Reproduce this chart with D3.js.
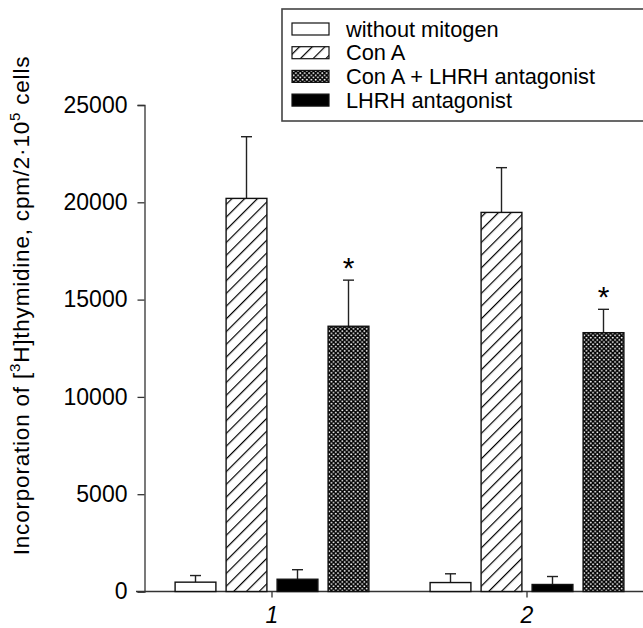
<!DOCTYPE html>
<html>
<head>
<meta charset="utf-8">
<style>
  body { margin: 0; background: #fff; }
  text { font-family: "Liberation Sans", Arial, Helvetica, sans-serif; }
</style>
<script src="https://d3js.org/d3.v7.min.js"></script>
</head>
<body>
<div id="chart"></div>
<script>
// data
var groups = ["1", "2"];
var series = ["without mitogen", "Con A", "LHRH antagonist", "Con A + LHRH antagonist"];
var legendOrder = ["without mitogen", "Con A", "Con A + LHRH antagonist", "LHRH antagonist"];
var means1 = [480, 20200, 630, 13630];
var errs1 = [340, 3170, 490, 2370];
var means2 = [460, 19480, 360, 13300];
var errs2 = [450, 2300, 410, 1200];
var marks = ["", "", "", "*"];
var yTicks = [0, 5000, 10000, 15000, 20000, 25000];

var width = 643, height = 628;
var fills = {
  "without mitogen": "#fff",
  "Con A": "url(#hatch)",
  "Con A + LHRH antagonist": "url(#dots)",
  "LHRH antagonist": "#000"
};

var rows = [];
groups.forEach(function(g, gi) {
  var m = gi === 0 ? means1 : means2, e = gi === 0 ? errs1 : errs2;
  series.forEach(function(s, si) {
    rows.push({group: g, series: s, mean: m[si], err: e[si], mark: marks[si]});
  });
});

var svg = d3.select("#chart").append("svg")
  .attr("width", width).attr("height", height);

var defs = svg.append("defs");
var hatch = defs.append("pattern").attr("id", "hatch")
  .attr("patternUnits", "userSpaceOnUse").attr("width", 9).attr("height", 9)
  .attr("patternTransform", "rotate(45)");
hatch.append("rect").attr("width", 9).attr("height", 9).attr("fill", "#fff");
hatch.append("line").attr("x1", 0).attr("y1", 0).attr("x2", 0).attr("y2", 9)
  .attr("stroke", "#000").attr("stroke-width", 2.4);

var dots = defs.append("pattern").attr("id", "dots")
  .attr("patternUnits", "userSpaceOnUse").attr("width", 4.4).attr("height", 4.4);
dots.append("rect").attr("width", 4.4).attr("height", 4.4).attr("fill", "#000");
dots.append("circle").attr("cx", 1.1).attr("cy", 1.1).attr("r", 0.95).attr("fill", "#fff");
dots.append("circle").attr("cx", 3.3).attr("cy", 3.3).attr("r", 0.95).attr("fill", "#fff");

var y = d3.scaleLinear().domain([0, 25000]).range([591.5, 105]);
var x0 = d3.scaleBand().domain(groups).range([144.5, 654.5]);
var x1 = d3.scaleBand().domain(series)
  .range([25.5, 229.5]).paddingInner(0.2).paddingOuter(0.1);

// y axis
var yAxis = svg.append("g")
  .attr("transform", "translate(144.5,0)")
  .call(d3.axisLeft(y).tickValues(yTicks).tickFormat(d3.format("d"))
    .tickSizeOuter(0).tickSize(7).tickPadding(10));
yAxis.select(".domain").attr("stroke", "#333").attr("stroke-width", 1.3);
yAxis.selectAll(".tick line").attr("stroke", "#333").attr("stroke-width", 1.3);
yAxis.selectAll(".tick text").attr("font-size", 23).attr("fill", "#000")
  .attr("font-family", "'Liberation Sans', Arial, sans-serif");

// x axis
svg.append("line")
  .attr("x1", 136).attr("x2", width).attr("y1", 591.5).attr("y2", 591.5)
  .attr("stroke", "#333").attr("stroke-width", 1.3);
var xAxis = svg.append("g")
  .attr("transform", "translate(0,591.5)")
  .call(d3.axisBottom(x0).tickSize(6).tickPadding(9));
xAxis.select(".domain").remove();
xAxis.selectAll(".tick line").attr("stroke", "#333").attr("stroke-width", 1.3);
xAxis.selectAll(".tick text").attr("font-size", 23).attr("fill", "#000")
  .attr("font-style", "italic")
  .attr("font-family", "'Liberation Sans', Arial, sans-serif");

// bars
var bars = svg.append("g").selectAll("g.bar").data(rows).join("g").attr("class", "bar")
  .attr("transform", function(d) { return "translate(" + (x0(d.group) + x1(d.series)) + ",0)"; });

bars.append("line")
  .attr("x1", x1.bandwidth() / 2).attr("x2", x1.bandwidth() / 2)
  .attr("y1", function(d) { return y(d.mean); })
  .attr("y2", function(d) { return y(d.mean + d.err); })
  .attr("stroke", "#222").attr("stroke-width", 1.4);
bars.append("line")
  .attr("x1", x1.bandwidth() / 2 - 5.5).attr("x2", x1.bandwidth() / 2 + 5.5)
  .attr("y1", function(d) { return y(d.mean + d.err); })
  .attr("y2", function(d) { return y(d.mean + d.err); })
  .attr("stroke", "#222").attr("stroke-width", 1.4);

bars.append("rect")
  .attr("x", 0).attr("width", x1.bandwidth())
  .attr("y", function(d) { return y(d.mean); })
  .attr("height", function(d) { return y(0) - y(d.mean); })
  .attr("fill", function(d) { return fills[d.series]; })
  .attr("stroke", "#111").attr("stroke-width", 1.4);

bars.filter(function(d) { return d.mark; }).append("text")
  .attr("x", x1.bandwidth() / 2)
  .attr("y", function(d) { return y(d.mean + d.err) - 2; })
  .attr("text-anchor", "middle").attr("font-size", 30)
  .text(function(d) { return d.mark; });

// y label
var yl = svg.append("text")
  .attr("transform", "translate(29,305.5) rotate(-90)")
  .attr("text-anchor", "middle").attr("font-size", 22.5)
  .attr("letter-spacing", 0.8);
yl.append("tspan").text("Incorporation of [");
yl.append("tspan").attr("font-size", 15).attr("dy", -9).text("3");
yl.append("tspan").attr("dy", 9).text("H]thymidine, cpm/2·10");
yl.append("tspan").attr("font-size", 15).attr("dy", -9).text("5");
yl.append("tspan").attr("dy", 9).text(" cells");

// legend
var leg = svg.append("g");
leg.append("rect").attr("x", 282).attr("y", 9).attr("width", 380).attr("height", 112)
  .attr("fill", "#fff").attr("stroke", "#444").attr("stroke-width", 1.6);
var li = leg.selectAll("g.li").data(legendOrder).join("g").attr("class", "li")
  .attr("transform", function(d, i) { return "translate(0," + (29 + i * 23.7) + ")"; });
li.append("rect").attr("x", 292).attr("y", -6).attr("width", 37).attr("height", 12)
  .attr("fill", function(d) { return fills[d]; })
  .attr("stroke", "#111").attr("stroke-width", 1.2);
li.append("text").attr("x", 346).attr("y", 7.5).attr("font-size", 21.8)
  .text(function(d) { return d; });
</script>
</body>
</html>
